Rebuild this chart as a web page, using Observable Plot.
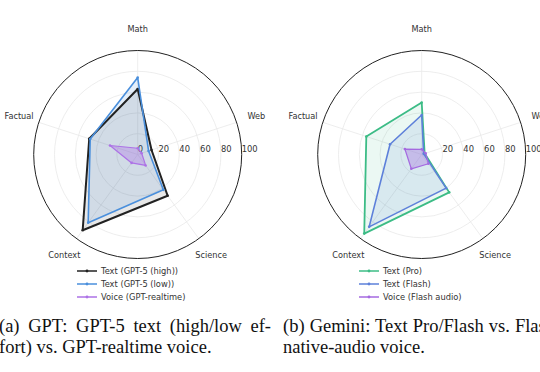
<!DOCTYPE html>
<html>
<head>
<meta charset="utf-8">
<script src="https://cdn.jsdelivr.net/npm/d3@7"></script>
<script src="https://cdn.jsdelivr.net/npm/@observablehq/plot@0.6"></script>
<style>
  html, body { margin: 0; padding: 0; background: #fff; }
  body { width: 540px; height: 372px; position: relative; overflow: hidden; }
  .chart { position: absolute; top: 0; width: 284px; height: 265px; }
  .chart svg { max-width: none !important; }
  .legend { position: absolute; font-family: "DejaVu Sans", sans-serif; font-size: 8.3px; color: #333; }
  .legend .row { height: 13px; display: flex; align-items: center; white-space: nowrap; }
  .legend svg { margin-right: 4px; }
  .cap { position: absolute; font-family: "Liberation Serif", "Times New Roman", serif; font-size: 18.5px; line-height: 21px; color: #111; white-space: nowrap; }
  .cap .j { text-align: justify; text-align-last: justify; white-space: normal; }
</style>
</head>
<body>
<div id="a" class="chart" style="left:0px"></div>
<div id="b" class="chart" style="left:284px"></div>
<div id="legA" class="legend" style="left:77px; top:264px"></div>
<div id="legB" class="legend" style="left:359px; top:264px"></div>
<div class="cap" style="left:-1px; top:316px; width:272px">
  <div class="j">(a) GPT: GPT-5 text (high/low ef-</div>
  <div>fort) vs. GPT-realtime voice.</div>
</div>
<div class="cap" style="left:283px; top:316px; width:272px">
  <div class="j">(b) Gemini: Text Pro/Flash vs. Flash</div>
  <div>native-audio voice.</div>
</div>
<script>
// ---- data ----
const categories = ["Math", "Web", "Science", "Context", "Factual"];
const rTicks = [0, 20, 40, 60, 80, 100];

const gptNames = ["Text (GPT-5 (high))", "Text (GPT-5 (low))", "Voice (GPT-realtime)"];
const gptHigh  = [63, 14, 49, 90, 49];
const gptLow   = [74, 11, 42, 81, 48];
const gptVoice = [6, 4, 13, 10, 28];

const gemNames = ["Text (Pro)", "Text (Flash)", "Voice (Flash audio)"];
const gemPro   = [50, 3, 45, 94, 56];
const gemFlash = [38, 2, 40, 86, 32];
const gemVoice = [5, 4, 11, 17, 17];

// ---- styles ----
const gptColors = ["#222222", "#4a8fdc", "#ad72e6"];
const gptFillOp = [0.10, 0.14, 0.35];
const gptWidths = [2.0, 1.6, 1.2];
const gemColors = ["#3cbc86", "#5d80da", "#a46ae0"];
const gemFillOp = [0.10, 0.13, 0.35];
const gemWidths = [1.8, 1.6, 1.2];

const ang = i => (90 - 72 * i) * Math.PI / 180;

function radar(el, names, seriesVals, colors, fillOps, widths, showZero) {
  const cx = 137.2, cy = 154, R = 104;
  const series = seriesVals.map((vals, k) => vals.map((v, i) => ({
    name: names[k], cat: categories[i],
    x: v * Math.cos(ang(i)), y: v * Math.sin(ang(i))
  })));
  const marks = [
    Plot.dot(rTicks.filter(t => t > 0 && t < 100), {x: 0, y: 0, r: d => d, stroke: "#e8e8e8", fill: "none", strokeWidth: 0.8}),
    Plot.link(categories, {x1: 0, y1: 0, x2: (d, i) => 100 * Math.cos(ang(i)), y2: (d, i) => 100 * Math.sin(ang(i)), stroke: "#e8e8e8", strokeWidth: 0.8}),
    Plot.dot([100], {x: 0, y: 0, r: d => d, stroke: "#222", fill: "none", strokeWidth: 1}),
    Plot.text(rTicks.filter(t => showZero || t > 0), {x: d => d, y: 0, text: d => String(d), textAnchor: "start", dy: -5, fontSize: 8.4, fill: "#333"})
  ];
  series.forEach((pts, k) => {
    marks.push(Plot.line(pts, {x: "x", y: "y", curve: "linear-closed", fill: colors[k], fillOpacity: fillOps[k], stroke: "none"}));
  });
  series.forEach((pts, k) => {
    marks.push(Plot.line(pts, {x: "x", y: "y", curve: "linear-closed", stroke: colors[k], strokeWidth: widths[k], strokeLinejoin: "miter"}));
    marks.push(Plot.dot(pts, {x: "x", y: "y", r: 1.3, fill: colors[k], stroke: "none"}));
  });
  marks.push(Plot.text(categories, {x: (d, i) => 120 * Math.cos(ang(i)), y: (d, i) => 120 * Math.sin(ang(i)), text: d => d, fontSize: 8.2, fill: "#333"}));
  const chart = Plot.plot({
    width: 284, height: 265, margin: 0,
    style: {fontFamily: "DejaVu Sans, sans-serif", background: "transparent", overflow: "visible", maxWidth: "none"},
    x: {domain: [-100, 100], range: [cx - R, cx + R], axis: null},
    y: {domain: [-100, 100], range: [cy + R, cy - R], axis: null},
    r: {type: "linear", domain: [0, 100], range: [0, R]},
    marks
  });
  document.getElementById(el).appendChild(chart);
}

radar("a", gptNames, [gptHigh, gptLow, gptVoice], gptColors, gptFillOp, gptWidths, true);
radar("b", gemNames, [gemPro, gemFlash, gemVoice], gemColors, gemFillOp, gemWidths, false);

function legend(el, names, colors) {
  const box = document.getElementById(el);
  names.forEach((n, k) => {
    const row = document.createElement("div");
    row.className = "row";
    row.innerHTML = `<svg width="20" height="8"><line x1="0" y1="4" x2="20" y2="4" stroke="${colors[k]}" stroke-width="1.5"/><circle cx="10" cy="4" r="1.4" fill="${colors[k]}"/></svg><span>${n}</span>`;
    box.appendChild(row);
  });
}
legend("legA", gptNames, gptColors);
legend("legB", gemNames, gemColors);
</script>
</body>
</html>
